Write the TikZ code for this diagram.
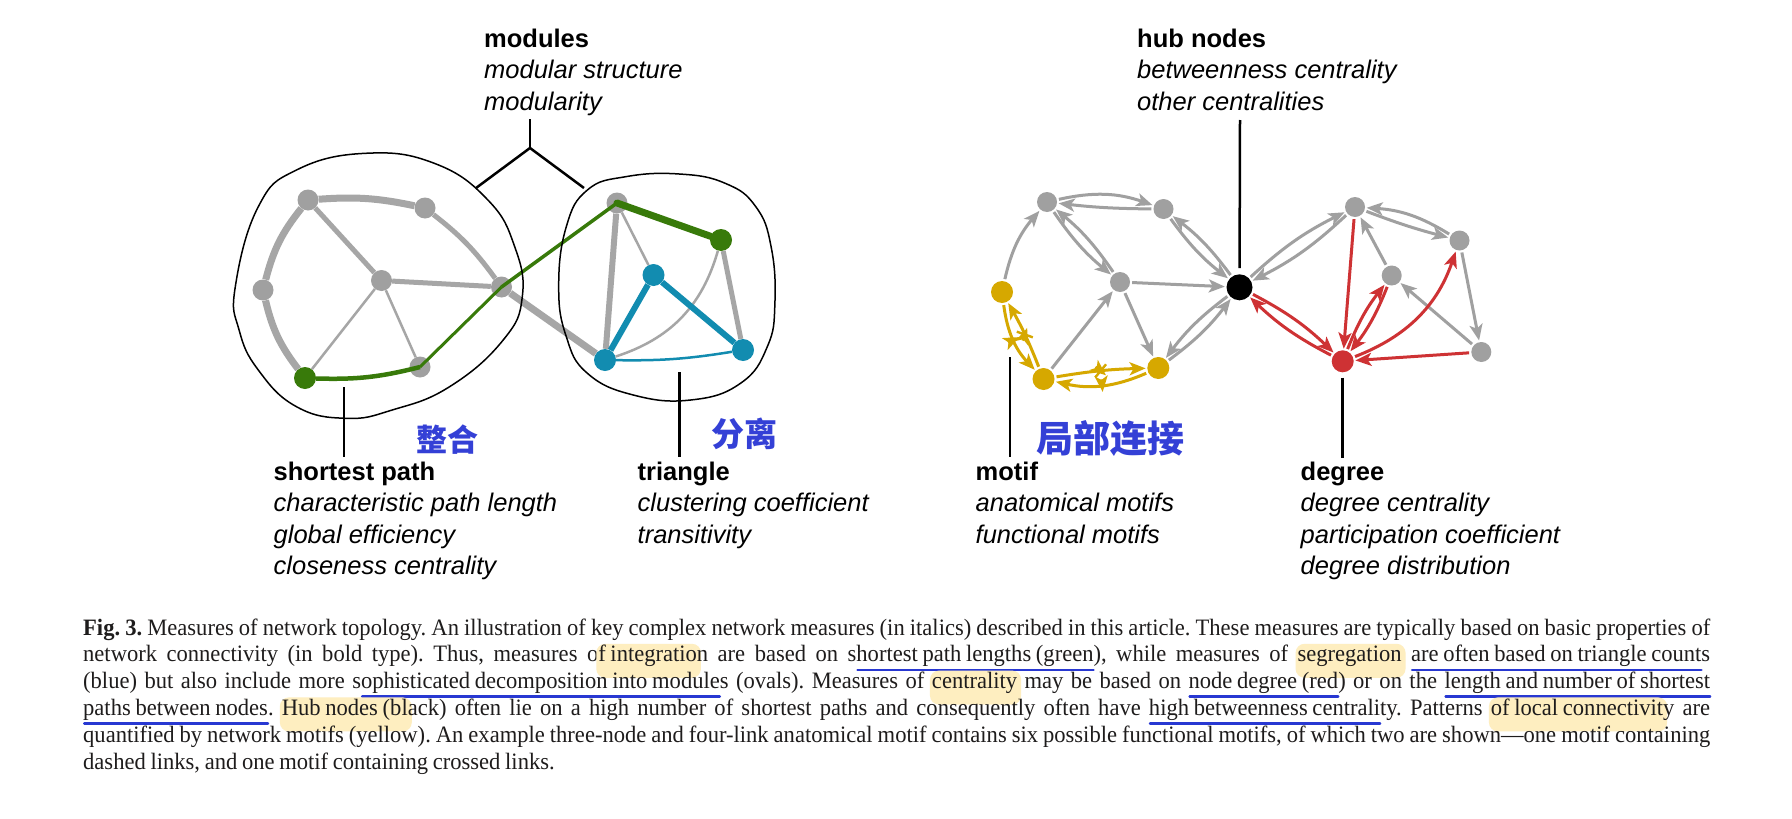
\documentclass[tikz,border=0pt]{standalone}
\usepackage{fontspec}
\setmainfont{Liberation Sans}
\newfontfamily\capfont[FakeStretch=0.96]{Liberation Serif}
\newfontfamily\cjkhand{Noto Sans CJK SC}
\usetikzlibrary{arrows.meta,decorations.markings}

\definecolor{ngray}{RGB}{160,160,160}
\definecolor{egray}{RGB}{166,166,166}
\definecolor{ngreen}{RGB}{56,122,10}
\definecolor{nblue}{RGB}{18,140,176}
\definecolor{nyel}{RGB}{214,168,0}
\definecolor{nred}{RGB}{206,50,52}
\definecolor{hand}{RGB}{52,64,214}
\definecolor{hlyel}{RGB}{254,238,192}
\definecolor{ulblue}{RGB}{40,56,210}
\definecolor{captxt}{RGB}{30,28,28}

\newcommand\capsetup{\capfont\fontsize{23.5}{26.8}\selectfont\frenchspacing\spaceskip 0.2em plus 0.2em minus 0.06em\relax}

\newsavebox\capbox
\newlength\capw
\newcommand\hlmark[1]{\sbox\capbox{#1}\setlength\capw{\wd\capbox}%
  \tikz[baseline=0pt,x=1pt,y=1pt]{\fill[hlyel,rounded corners=9pt,overlay] (-2pt,-16pt) rectangle (\capw+4pt,18pt);\node[inner sep=0pt,outer sep=0pt,anchor=base west] at (0pt,0pt) {\usebox\capbox};}}
\newcommand\ulmark[1]{\sbox\capbox{#1}\setlength\capw{\wd\capbox}%
  \tikz[baseline=0pt,x=1pt,y=1pt]{\node[inner sep=0pt,outer sep=0pt,anchor=base west] at (0pt,0pt) {\usebox\capbox};\draw[ulblue,line width=2.4pt,line cap=round,overlay] (1pt,-8pt) -- (\capw,-8pt);}}

\tikzset{
  gn/.style={circle,fill=ngray,inner sep=0pt,minimum size=21pt},
  gnr/.style={circle,fill=ngray,inner sep=0pt,minimum size=20pt},
  grnn/.style={circle,fill=ngreen,inner sep=0pt,minimum size=22pt},
  blun/.style={circle,fill=nblue,inner sep=0pt,minimum size=22pt},
  yeln/.style={circle,fill=nyel,inner sep=0pt,minimum size=22pt},
  redn/.style={circle,fill=nred,inner sep=0pt,minimum size=22pt},
  hubn/.style={circle,fill=black,inner sep=0pt,minimum size=26pt},
  gthick/.style={draw=egray,line width=7pt},
  gmed/.style={draw=egray,line width=5pt},
  gthin/.style={draw=egray,line width=2.5pt},
  bthick/.style={draw=nblue,line width=6pt},
  bthin/.style={draw=nblue,line width=2.5pt},
  grn/.style={draw=ngreen},
  ar/.style={line width=3pt,-{Stealth[length=16pt,width=13pt,inset=4pt]},shorten >=1.5pt,shorten <=2pt},
  arg/.style={ar,draw=ngray},
  ary/.style={ar,draw=nyel},
  arr/.style={ar,draw=nred},
  tickmark/.style={postaction={decorate},decoration={markings,mark=at position 0.5 with {\draw[nyel,line width=2.4pt] (0pt,-8pt) -- (0pt,8pt);}}},
  crossmark/.style={postaction={decorate},decoration={markings,mark=at position 0.5 with {\draw[nyel,line width=2.4pt] (-6pt,-6pt) -- (6pt,6pt) (-6pt,6pt) -- (6pt,-6pt);}}},
  conn/.style={draw=black,line width=2.5pt},
  blob/.style={draw=black,line width=1.5pt},
  lbl/.style={anchor=base west,inner sep=0pt,font=\fontsize{25.5}{30}\selectfont},
  lblb/.style={lbl,font=\fontsize{25.5}{30}\selectfont\bfseries},
  lbli/.style={lbl,font=\fontsize{25.5}{30}\selectfont\itshape},
  handtxt/.style={text=hand,inner sep=0pt},
  captext/.style={anchor=base west,inner sep=0pt,text=captxt,font=\capsetup},
}

\begin{document}
\begin{tikzpicture}[x=1pt,y=-1pt]
\useasboundingbox (0,0) rectangle (1792,819);
\fill[white] (0,0) rectangle (1792,819);

% ---------------- left network nodes ----------------
\node[gn] (A) at (308,200) {};
\node[gn] (B) at (425,208) {};
\node[gn] (C) at (263,290) {};
\node[gn] (D) at (381.5,280.5) {};
\node[gn] (E) at (501.5,287) {};
\node[gn] (G) at (420,367) {};
\node[gn] (H) at (617,203) {};
\node[grnn] (F) at (305,378) {};
\node[grnn] (I) at (721,240) {};
\node[blun] (J) at (653.5,275) {};
\node[blun] (K) at (605,360) {};
\node[blun] (L) at (743,350) {};

% gray edges
\draw[gthick] (A) to[bend left=8] (B);
\draw[gthick] (A) to[bend right=12] (C);
\draw[gthick] (C) to[bend right=12] (F);
\draw[gmed] (A) -- (D);
\draw[gmed] (B) to[bend left=8] (E);
\draw[gmed] (D) -- (E);
\draw[gthin] (D) -- (F);
\draw[gthin] (D) -- (G);
\draw[gthick] (E) -- (K);
\draw[draw=egray,line width=6pt] (H) -- (K);
\draw[gthin] (H) -- (J);
\draw[gmed] (I) -- (L);
\draw[gthin] (K) to[bend right=28] (I);
% blue triangle
\draw[bthick] (K) -- (J);
\draw[bthick] (J) -- (L);
\draw[bthin] (K) to[bend right=5] (L);
% green shortest path
\draw[grn,line width=4.5pt] (F) to[bend right=8] (G.center);
\draw[grn,line width=3pt] (G.center) -- (E.center);
\draw[grn,line width=3.5pt] (E.center) -- (H.center);
\draw[grn,line width=7pt,line cap=round] (H.center) -- (I);

% module outlines
\draw[blob] plot[smooth cycle,tension=0.75] coordinates {(235.3,286.7) (258.3,206.7) (296.5,170) (365.4,153.3) (434.3,163.3) (487.9,200) (514.7,246.7) (522.3,296.7) (503.2,340) (449.6,386.7) (392.2,410) (346.3,418.3) (296.5,406.7) (258.3,370) (239.1,330)};
\draw[blob] plot[smooth cycle,tension=0.75] coordinates {(558.7,286.7) (566.3,226.7) (587.4,190) (625.7,176.7) (679.2,174) (725.2,183.3) (755.8,206.7) (771.1,246.7) (774.9,303.3) (767.3,346.7) (740.5,383.3) (690.7,400) (633.3,395) (587.4,373.3) (566.3,336.7)};

% ---------------- right network nodes ----------------
\node[gnr] (P1) at (1047,202) {};
\node[gnr] (P2) at (1163.5,209) {};
\node[gnr] (P3) at (1120,282) {};
\node[yeln] (Y1) at (1002,292) {};
\node[yeln] (Y2) at (1043.5,379) {};
\node[yeln] (Y3) at (1158.3,368) {};
\node[hubn] (HB) at (1239.5,287.3) {};
\node[gnr] (Q1) at (1355,207) {};
\node[gnr] (Q2) at (1459.5,240.5) {};
\node[gnr] (Q3) at (1391.7,275.5) {};
\node[redn] (R) at (1342.7,361.3) {};
\node[gnr] (Q4) at (1481.3,352) {};

% gray arrows
\draw[arg] (P1) to[bend left=16] (P2);
\draw[arg] (P2) to[bend left=3] (P1);
\draw[arg] (P2) to[bend right=8] (HB);
\draw[arg] (HB) to[bend right=8] (P2);
\draw[arg] (P1) to[bend right=8] (P3);
\draw[arg] (P3) to[bend right=8] (P1);
\draw[arg] (Y1) to[bend left=14] (P1);
\draw[arg] (P3) -- (HB);
\draw[arg] (Y2) -- (P3);
\draw[arg] (P3) -- (Y3);
\draw[arg] (Y3) to[bend right=8] (HB);
\draw[arg] (HB) to[bend right=8] (Y3);
\draw[arg] (HB) to[bend left=8] (Q1);
\draw[arg] (Q1) to[bend left=8] (HB);
\draw[arg] (Q2) to[bend right=14] (Q1);
\draw[arg] (Q1) to[bend right=3] (Q2);
\draw[arg] (Q3) -- (Q1);
\draw[arg] (Q2) -- (Q4);
\draw[arg] (Q4) -- (Q3);
% red arrows
\draw[arr] (Q1) -- (R);
\draw[arr] (HB) to[bend left=8] (R);
\draw[arr] (R) to[bend left=8] (HB);
\draw[arr] (R) to[bend left=8] (Q3);
\draw[arr] (Q3) to[bend left=8] (R);
\draw[arr] (R) to[bend right=25] (Q2);
\draw[arr] (Q4) -- (R);
% yellow motif
\draw[ary,tickmark] (Y1) to[bend right=18] (Y2);
\draw[ary,crossmark] (Y2) to[bend right=4] (Y1);
\draw[ary,crossmark] (Y2) to[bend left=4] (Y3);
\draw[ary,tickmark] (Y3) to[bend left=18] (Y2);

% ---------------- connectors to labels ----------------
\coordinate (modtop) at (530,119);
\coordinate (modfork) at (530,148);
\coordinate (modL) at (476,188);
\coordinate (modR) at (584,188);
\draw[conn] (modtop) -- (modfork);
\draw[conn] (modfork) -- (modL);
\draw[conn] (modfork) -- (modR);
\coordinate (spA) at (344,387);
\coordinate (spB) at (344,457);
\draw[conn] (spA) -- (spB);
\coordinate (trA) at (679.5,372);
\coordinate (trB) at (679.5,457);
\draw[conn] (trA) -- (trB);
\coordinate (hubtop) at (1240,120);
\draw[conn,shorten >=6pt] (hubtop) -- (HB);
\coordinate (motA) at (1010,357);
\coordinate (motB) at (1010,457);
\draw[conn] (motA) -- (motB);
\coordinate (degB) at (1342.7,458);
\draw[conn,shorten <=5pt] (R) -- (degB);

% ---------------- labels ----------------
\node[lblb] (mod1) at (484,47) {modules};
\node[lbli] (mod2) at (484,78.5) {modular structure};
\node[lbli] (mod3) at (484,110) {modularity};
\node[lblb] (hub1) at (1137,47) {hub nodes};
\node[lbli] (hub2) at (1137,78.5) {betweenness centrality};
\node[lbli] (hub3) at (1137,110) {other centralities};
\node[lblb] (sp1) at (273.5,480) {shortest path};
\node[lbli] (sp2) at (273.5,511.5) {characteristic path length};
\node[lbli] (sp3) at (273.5,543) {global efficiency};
\node[lbli] (sp4) at (273.5,574.5) {closeness centrality};
\node[lblb] (tr1) at (637.5,480) {triangle};
\node[lbli] (tr2) at (637.5,511.5) {clustering coefficient};
\node[lbli] (tr3) at (637.5,543) {transitivity};
\node[lblb] (mo1) at (975.5,480) {motif};
\node[lbli] (mo2) at (975.5,511.5) {anatomical motifs};
\node[lbli] (mo3) at (975.5,543) {functional motifs};
\node[lblb] (dg1) at (1300.5,480) {degree};
\node[lbli] (dg2) at (1300.5,511.5) {degree centrality};
\node[lbli] (dg3) at (1300.5,543) {participation coefficient};
\node[lbli] (dg4) at (1300.5,574.5) {degree distribution};

% handwritten notes
\node[handtxt,font=\cjkhand\bfseries\fontsize{31}{31}\selectfont] (hw1) at (447,440) {整合};
\node[handtxt,font=\cjkhand\bfseries\fontsize{33}{33}\selectfont] (hw2) at (744.5,434) {分离};
\node[handtxt,font=\cjkhand\bfseries\fontsize{37}{37}\selectfont] (hw3) at (1110.5,438) {局部连接};

% ---------------- caption ----------------
\node[captext] (cap1) at (83,635) {\makebox[1627pt][s]{\textbf{Fig. 3.} Measures of network topology. An illustration of key complex network measures (in italics) described in this article. These measures are typically based on basic properties of}};
\node[captext] (cap2) at (83,661.8) {\makebox[1627pt][s]{network connectivity (in bold type). Thus, measures o\hlmark{f integratio}n are based on s\ulmark{hortest path lengths (green}), while measures of \hlmark{segregation} \ulmark{are often based on triangle count}s}};
\node[captext] (cap3) at (83,688.6) {\makebox[1627pt][s]{(blue) but also include more s\ulmark{ophisticated decomposition into module}s (ovals). Measures of \hlmark{centrality} may be based on \ulmark{node degree (red}) or on the \ulmark{length and number of shortest}}};
\node[captext] (cap4) at (83,715.4) {\makebox[1627pt][s]{\ulmark{paths between nodes}. \hlmark{Hub nodes (bl}ack) often lie on a high number of shortest paths and consequently often have \ulmark{high betweenness centrali}ty. Patterns \hlmark{of local connectivit}y are}};
\node[captext] (cap5) at (83,742.2) {\makebox[1627pt][s]{quantified by network motifs (yellow). An example three-node and four-link anatomical motif contains six possible functional motifs, of which two are shown—one motif containing}};
\node[captext] (cap6) at (83,769) {dashed links, and one motif containing crossed links.};
\end{tikzpicture}
\end{document}
